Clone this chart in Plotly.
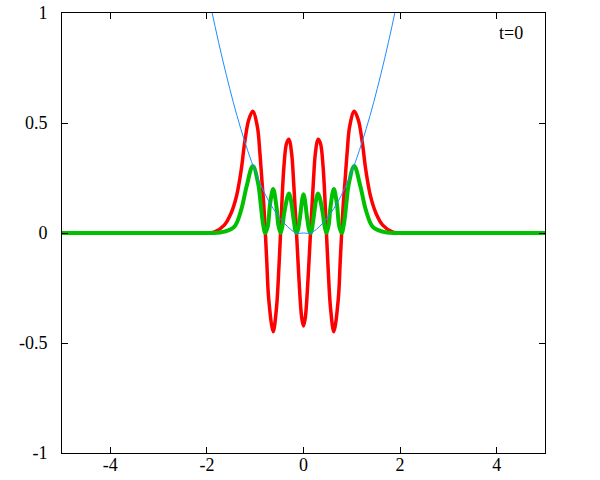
import plotly.graph_objects as go

re_x = [-5.0, -2.2, -1.95, -1.84, -1.64, -1.50, -1.39, -1.29, -1.22, -1.135, -1.05,
        -0.955, -0.905, -0.858, -0.82, -0.79, -0.76, -0.72, -0.628, -0.56, -0.51,
        -0.475, -0.406, -0.35, -0.30, -0.246, -0.204, -0.145, -0.094, -0.037, 0.0,
        0.037, 0.094, 0.145, 0.204, 0.246, 0.30, 0.35, 0.406, 0.475, 0.51, 0.56,
        0.628, 0.72, 0.76, 0.79, 0.82, 0.858, 0.905, 0.955, 1.05, 1.135, 1.22,
        1.29, 1.39, 1.50, 1.64, 1.84, 1.95, 2.2, 5.0]
re_y = [0.0, 0.0, 0.001, 0.005, 0.036, 0.09, 0.165, 0.286, 0.408, 0.514, 0.553,
        0.483, 0.37, 0.23, 0.12, 0.0, -0.13, -0.30, -0.449, -0.342, -0.16,
        0.0, 0.30, 0.408, 0.426, 0.362, 0.23, 0.0, -0.21, -0.385, -0.423,
        -0.385, -0.21, 0.0, 0.23, 0.362, 0.426, 0.408, 0.30, 0.0, -0.16, -0.342,
        -0.449, -0.30, -0.13, 0.0, 0.12, 0.23, 0.37, 0.483, 0.553, 0.514, 0.408,
        0.286, 0.165, 0.09, 0.036, 0.005, 0.001, 0.0, 0.0]

# Probability density (green)
pd_x = [-5.0, -2.0, -1.8, -1.64, -1.43, -1.29, -1.18, -1.05, -0.94, -0.885, -0.84,
        -0.79, -0.74, -0.69, -0.628, -0.56, -0.52, -0.475, -0.43, -0.40, -0.30,
        -0.20, -0.17, -0.145, -0.115, -0.08, 0.0,
        0.08, 0.115, 0.145, 0.17, 0.20, 0.30, 0.40, 0.43, 0.475, 0.52, 0.56,
        0.628, 0.69, 0.74, 0.79, 0.84, 0.885, 0.94, 1.05, 1.18, 1.29, 1.43,
        1.64, 1.8, 2.0, 5.0]
pd_y = [0.0, 0.0, 0.001, 0.006, 0.029, 0.105, 0.21, 0.305, 0.226, 0.13, 0.045,
        0.0, 0.03, 0.135, 0.20, 0.12, 0.035, 0.0, 0.04, 0.09, 0.18,
        0.055, 0.012, 0.0, 0.015, 0.06, 0.176,
        0.06, 0.015, 0.0, 0.012, 0.055, 0.18, 0.09, 0.04, 0.0, 0.035, 0.12,
        0.20, 0.135, 0.03, 0.0, 0.045, 0.13, 0.226, 0.305, 0.21, 0.105, 0.029,
        0.006, 0.001, 0.0, 0.0]

# Potential (blue)
pot_x = [-2.1, -1.9, -1.6, -1.3, -1.0, -0.7, -0.4, -0.15, 0.0, 0.15, 0.4, 0.7,
         1.0, 1.3, 1.6, 1.9, 2.1]
pot_y = [1.24, 1.01, 0.72, 0.475, 0.28, 0.137, 0.045, 0.0, 0.0, 0.0, 0.045, 0.137,
         0.28, 0.475, 0.72, 1.01, 1.24]

x_tickvals = [-4, -2, 0, 2, 4]
x_ticktext = ["-4", "-2", "0", "2", "4"]
y_tickvals = [-1, -0.5, 0, 0.5, 1]
y_ticktext = ["-1", "-0.5", "0", "0.5", "1"]
label_text = "t=0"

fig = go.Figure()
fig.add_trace(go.Scatter(x=re_x, y=re_y, mode="lines",
                         line=dict(color="#ff0000", width=3.5, shape="spline", smoothing=1.0)))
fig.add_trace(go.Scatter(x=pd_x, y=pd_y, mode="lines",
                         line=dict(color="#00c000", width=4, shape="spline", smoothing=1.0)))
fig.add_trace(go.Scatter(x=pot_x, y=pot_y, mode="lines",
                         line=dict(color="#1e8cff", width=1, shape="spline", smoothing=1.0)))

font = dict(family="Times New Roman, Liberation Serif, serif", size=18, color="black")
axis_common = dict(showgrid=False, zeroline=False, showline=True, linecolor="black",
                   linewidth=1, mirror="allticks", ticks="inside", ticklen=6,
                   tickcolor="black", tickwidth=1, tickfont=font, automargin=False,
                   ticklabeloverflow="allow")
fig.update_xaxes(range=[-5, 5], tickvals=x_tickvals, ticktext=x_ticktext,
                 ticklabelstandoff=-5, **axis_common)
fig.update_yaxes(range=[-1, 1], tickvals=y_tickvals, ticktext=y_ticktext,
                 ticklabelstandoff=10, **axis_common)
fig.add_annotation(x=4.0, y=0.91, text=label_text, showarrow=False,
                   xanchor="left", yanchor="middle", font=font)
fig.update_layout(template="none", width=600, height=480, showlegend=False,
                  margin=dict(l=62, r=55, t=13, b=27, autoexpand=False),
                  font=font,
                  plot_bgcolor="white", paper_bgcolor="white")
fig.write_html("out.html", config={"displayModeBar": False},
               post_script="document.body.style.margin='0';document.body.style.overflow='hidden';")
